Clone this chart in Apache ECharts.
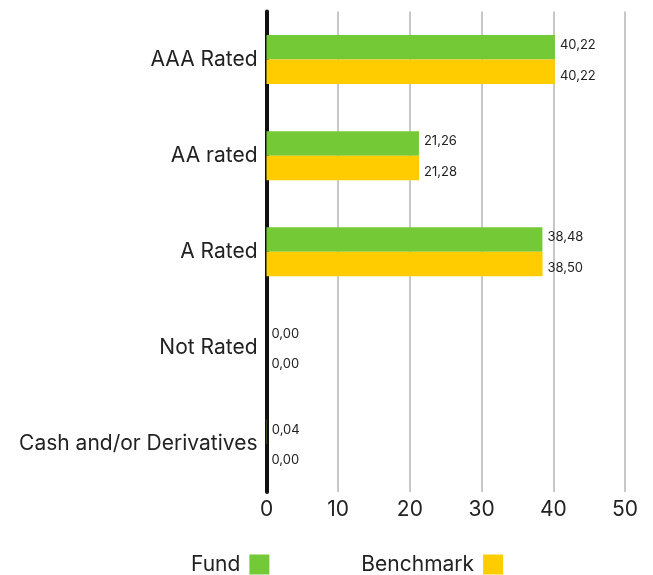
<!DOCTYPE html>
<html><head><meta charset="utf-8">
<script src="https://cdn.jsdelivr.net/npm/echarts@6/dist/echarts.min.js"></script>
<style>html,body{margin:0;padding:0;background:#fff}#c{width:653px;height:575px}</style>
</head><body><div id="c"></div>
<script>
const categories = ["AAA Rated", "AA rated", "A Rated", "Not Rated", "Cash and/or Derivatives"];
const fundValues = [40.22, 21.26, 38.48, 0.00, 0.04];
const benchmarkValues = [40.22, 21.28, 38.50, 0.00, 0.00];
const xTicks = [0, 10, 20, 30, 40, 50];

const font = "Inter, 'Noto Sans', sans-serif";
const chart = echarts.init(document.getElementById('c'), null, {renderer: 'canvas'});
const mkLbl = dy => ({
  show: true, position: 'right', distance: 5, offset: [0, dy],
  fontFamily: font, fontSize: 13, color: '#222',
  formatter: p => p.value.toFixed(2).replace('.', ',')
});
chart.setOption({
  animation: false,
  textStyle: {fontFamily: font},
  grid: {left: 266.5, right: 28, top: 11.5, bottom: 83, containLabel: false},
  legend: {
    left: 186, top: 549, align: 'right', itemGap: 92,
    icon: 'rect', itemWidth: 20, itemHeight: 20,
    textStyle: {fontFamily: font, fontSize: 21, color: '#222', padding: [0, 4, 0, 0]},
    data: ['Fund', 'Benchmark']
  },
  xAxis: {
    type: 'value', min: xTicks[0], max: xTicks[xTicks.length - 1], interval: 10,
    axisLine: {show: false}, axisTick: {show: false},
    splitLine: {show: true, lineStyle: {color: '#c8c8c8', width: 2}},
    axisLabel: {fontFamily: font, fontSize: 21, color: '#222', margin: 7}
  },
  yAxis: {
    type: 'category', data: categories, inverse: true,
    axisLine: {show: true, lineStyle: {color: '#111', width: 4}},
    axisTick: {show: false},
    axisLabel: {fontFamily: font, fontSize: 21, color: '#222', margin: 9}
  },
  series: [
    {name: 'Fund', type: 'bar', data: fundValues, itemStyle: {color: '#74c936'},
     barGap: '0%', barCategoryGap: '49%', label: mkLbl(-2)},
    {name: 'Benchmark', type: 'bar', data: benchmarkValues, itemStyle: {color: '#ffcc00'},
     barGap: '0%', barCategoryGap: '49%', label: mkLbl(4)}
  ]
});
</script></body></html>
